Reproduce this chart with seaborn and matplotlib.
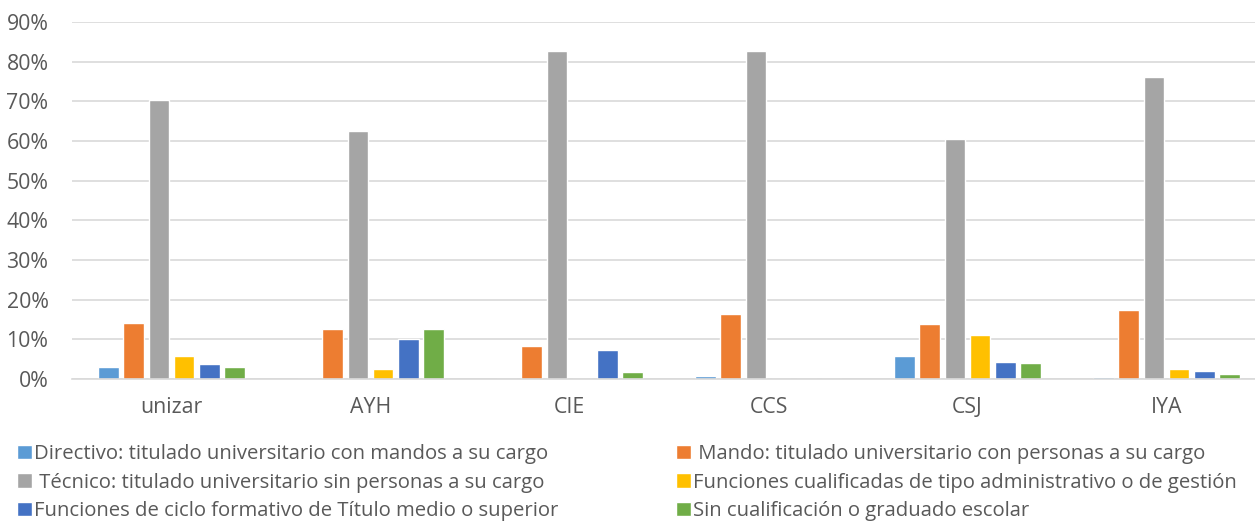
import pandas as pd
import seaborn as sns
import matplotlib.pyplot as plt
from matplotlib.ticker import PercentFormatter

centros = ["unizar", "AYH", "CIE", "CCS", "CSJ", "IYA"]
categorias = [
    "Directivo: titulado universitario con mandos a su cargo",
    " Mando: titulado universitario con personas a su cargo",
    " Técnico: titulado universitario sin personas a su cargo",
    "Funciones cualificadas de tipo administrativo o de gestión",
    "Funciones de ciclo formativo de Título medio o superior",
    "Sin cualificación o graduado escolar",
]
directivo = [3.0, 0.0, 0.0, 0.8, 5.9, 0.6]
mando = [14.2, 12.5, 8.2, 16.4, 13.9, 17.5]
tecnico = [70.3, 62.4, 82.7, 82.8, 60.6, 76.2]
administrativo = [5.8, 2.5, 0.0, 0.0, 11.2, 2.5]
ciclo_formativo = [3.9, 10.0, 7.3, 0.0, 4.3, 1.9]
sin_cualificacion = [3.0, 12.5, 1.8, 0.0, 4.1, 1.3]
colores = ["#5B9BD5", "#ED7D31", "#A5A5A5", "#FFC000", "#4472C4", "#70AD47"]

series = [directivo, mando, tecnico, administrativo, ciclo_formativo, sin_cualificacion]
rows = []
for cat, vals in zip(categorias, series):
    for c, v in zip(centros, vals):
        rows.append({"centro": c, "categoria": cat, "valor": v / 100})
df = pd.DataFrame(rows)

sns.set_style("white")
plt.rcParams["font.family"] = ["Open Sans", "DejaVu Sans"]

fig = plt.figure(figsize=(12.55, 5.25), dpi=100)
ax = fig.add_axes([72 / 1255, 1 - 379 / 525, 1194 / 1255, 357 / 525])

sns.barplot(data=df, x="centro", y="valor", hue="categoria", hue_order=categorias,
            order=centros, palette=colores, width=0.76, gap=0.18,
            saturation=1, ax=ax, legend=True)

ax.set_ylim(0, 0.9)
ax.set_yticks([i / 10 for i in range(10)])
ax.yaxis.set_major_formatter(PercentFormatter(1.0, decimals=0))
ax.set_xlim(-0.5, 5.5)
ax.set_xlabel("")
ax.set_ylabel("")
ax.grid(axis="y", color="#D9D9D9", linewidth=1.2)
ax.set_axisbelow(True)
for s in ["top", "right", "left"]:
    ax.spines[s].set_visible(False)
ax.spines["bottom"].set_color("#D9D9D9")
ax.spines["bottom"].set_linewidth(1.2)
ax.tick_params(axis="both", length=0, labelsize=15.3, labelcolor="#595959")
ax.tick_params(axis="x", pad=13)
ax.tick_params(axis="y", pad=17)

handles, labels = ax.get_legend_handles_labels()
ax.get_legend().remove()
kw = dict(frameon=False, fontsize=14.6, labelcolor="#595959", handlelength=0.75,
          handleheight=0.75, handletextpad=0.1, labelspacing=0.42, borderaxespad=0)
fig.legend(handles[0::2], labels[0::2], loc="upper left", bbox_to_anchor=(9 / 1255, 1 - 436 / 525), **kw)
fig.legend(handles[1::2], labels[1::2], loc="upper left", bbox_to_anchor=(668 / 1255, 1 - 436 / 525), **kw)

fig.savefig("out.png", dpi=100)
